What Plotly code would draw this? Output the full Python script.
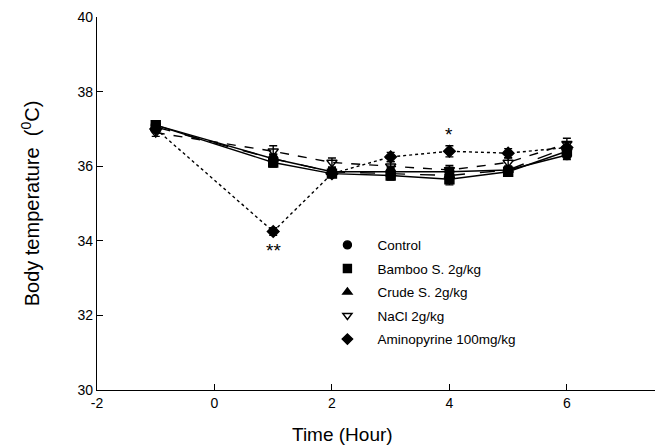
import plotly.graph_objects as go

hours = [-1, 1, 2, 3, 4, 5, 6]

control = [37.1, 36.2, 35.85, 35.85, 35.85, 35.9, 36.3]
control_err = [0.1, 0.12, 0.1, 0.12, 0.12, 0.1, 0.12]
bamboo = [37.1, 36.1, 35.8, 35.75, 35.65, 35.85, 36.4]
bamboo_err = [0.1, 0.12, 0.1, 0.12, 0.15, 0.1, 0.15]
crude = [37.05, 36.2, 35.85, 35.8, 35.75, 35.9, 36.5]
crude_err = [0.1, 0.12, 0.1, 0.12, 0.12, 0.1, 0.15]
nacl = [36.9, 36.4, 36.1, 36.0, 35.9, 36.1, 36.6]
nacl_err = [0.1, 0.15, 0.12, 0.12, 0.12, 0.12, 0.15]
amino = [37.0, 34.25, 35.8, 36.25, 36.4, 36.35, 36.5]
amino_err = [0.1, 0.1, 0.1, 0.12, 0.15, 0.12, 0.15]

x_tickvals = [-2, 0, 2, 4, 6]
x_ticktext = ["-2", "0", "2", "4", "6"]
y_tickvals = [30, 32, 34, 36, 38, 40]

series = [
    ("Control", control, control_err, "circle", "solid"),
    ("Bamboo S. 2g/kg", bamboo, bamboo_err, "square", "solid"),
    ("Crude S. 2g/kg", crude, crude_err, "triangle-up", "longdash"),
    ("NaCl 2g/kg", nacl, nacl_err, "triangle-down-open", "dash"),
    ("Aminopyrine 100mg/kg", amino, amino_err, "diamond", "dot"),
]

sig_x = [1, 4]
sig_y = [33.75, 36.85]
sig_text = ["**", "*"]

FONT = "Liberation Sans"

fig = go.Figure()
for name, vals, err, sym, dash in series:
    fig.add_trace(go.Scatter(
        x=hours, y=vals, mode="lines+markers", name=name, showlegend=False,
        line=dict(color="black", width=1.4, dash=dash),
        marker=dict(symbol=sym, size=9, color="black",
                    line=dict(color="black", width=1.4)),
        error_y=dict(type="data", array=err, color="black", thickness=1.4, width=4),
    ))
for i, (name, vals, err, sym, dash) in enumerate(series):
    fig.add_trace(go.Scatter(
        x=[None], y=[None], mode="markers", name=name, legendgroup=str(i),
        marker=dict(symbol=sym, size=8, color="black",
                    line=dict(color="black", width=1.4)),
    ))

for sx, sy, st in zip(sig_x, sig_y, sig_text):
    fig.add_annotation(x=sx, y=sy, text=st, showarrow=False,
                       font=dict(size=19, color="black", family=FONT))

fig.add_annotation(x=0.44, y=-0.12, xref="paper", yref="paper", text="Time (Hour)",
                   showarrow=False, yanchor="middle",
                   font=dict(size=19, color="black", family=FONT))

fig.update_layout(
    width=659, height=448,
    margin=dict(l=97, r=4, t=17, b=58),
    plot_bgcolor="white", paper_bgcolor="white",
    font=dict(family=FONT, color="black", size=14),
    legend=dict(x=0.395, y=0.43, xanchor="left", yanchor="top",
                bgcolor="rgba(0,0,0,0)", font=dict(size=13.5),
                tracegroupgap=3, itemwidth=50),
    xaxis=dict(range=[-2, 7.5], tickvals=x_tickvals, ticktext=x_ticktext,
               ticks="inside", ticklen=6, tickcolor="black", showline=True,
               linecolor="black", linewidth=1.4, showgrid=False, zeroline=False,
               tickfont=dict(size=14)),
    yaxis=dict(range=[30, 40], tickvals=y_tickvals, ticks="inside",
               ticklen=6, tickcolor="black", showline=True, linecolor="black",
               linewidth=1.4, showgrid=False, zeroline=False,
               tickfont=dict(size=14),
               title=dict(text="Body temperature  (<sup>0</sup>C)",
                          font=dict(size=20), standoff=32)),
)

fig.write_html("out.html")
